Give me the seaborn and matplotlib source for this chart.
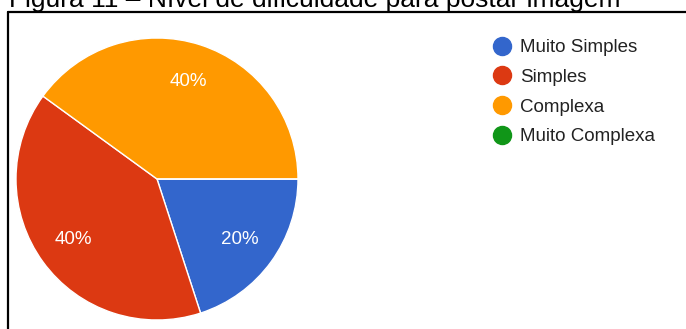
import matplotlib
matplotlib.use("Agg")
import matplotlib.pyplot as plt
from matplotlib.lines import Line2D
import numpy as np
import seaborn as sns

# Survey answers: difficulty of posting an image
categories = ["Muito Simples", "Simples", "Complexa", "Muito Complexa"]
shares = [20, 40, 40, 0]
slice_colors = ["#3366CC", "#DC3912", "#FF9900", "#109618"]
title_text = "Figura 11 – Nível de dificuldade para postar imagem"

sns.set_theme(style="white")
plt.rcParams["font.family"] = ["Liberation Sans", "DejaVu Sans"]

W, H = 686, 329
fig = plt.figure(figsize=(W / 100, H / 100), dpi=100)
fig.patch.set_facecolor("white")

# Pie axes placed in pixel terms: centre (157, 179), radius 141
cx, cy, r = 157, 179, 141
ax = fig.add_axes([(cx - r) / W, (H - cy - r) / H, 2 * r / W, 2 * r / H])
palette = sns.color_palette(slice_colors)

wedges, _ = ax.pie(
    shares,
    colors=palette,
    startangle=0,
    counterclock=False,
    wedgeprops=dict(edgecolor="white", linewidth=1.0),
)
ax.set_xlim(-1, 1)
ax.set_ylim(-1, 1)
ax.set_aspect("equal")
ax.axis("off")

# Percentage labels inside each non-empty slice
total = sum(shares)
for w, v in zip(wedges, shares):
    if v <= 0:
        continue
    mid = np.deg2rad((w.theta1 + w.theta2) / 2)
    ax.text(0.73 * np.cos(mid), 0.73 * np.sin(mid), f"{round(100 * v / total)}%",
            ha="center", va="center", color="white", fontsize=13.5)

# Legend with round markers
handles = [Line2D([], [], marker="o", linestyle="", markersize=13,
                  markerfacecolor=c, markeredgecolor=c) for c in palette]
leg = fig.legend(handles, categories, loc="upper left",
                 bbox_to_anchor=(493 / W, 1 - 39 / H),
                 bbox_transform=fig.transFigure,
                 frameon=False, fontsize=13.5, labelspacing=0.67,
                 handletextpad=0.45, handlelength=1.0, borderaxespad=0,
                 borderpad=0)
for t in leg.get_texts():
    t.set_color("#222222")

# Caption line, partly above the image edge
fig.text(9 / W, 1 - 7 / H, title_text, ha="left", va="baseline",
         fontsize=19.0, color="black")

# Frame around the chart (continues past the right and bottom edges)
fig.add_artist(Line2D([8 / W, 8 / W], [1 - 12 / H, -0.05],
                      transform=fig.transFigure, color="black", linewidth=1.6))
fig.add_artist(Line2D([8 / W, 1.05], [1 - 12 / H, 1 - 12 / H],
                      transform=fig.transFigure, color="black", linewidth=1.6))

fig.savefig("out.png", dpi=100)
